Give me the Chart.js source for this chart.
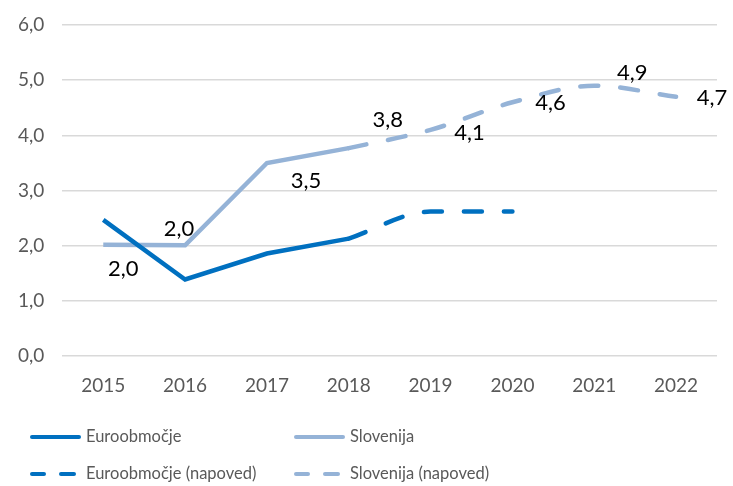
<!DOCTYPE html>
<html>
<head>
<meta charset="utf-8">
<script src="https://cdn.jsdelivr.net/npm/chart.js@4/dist/chart.umd.min.js"></script>
<style>
  body { margin: 0; background: #fff; }
  #myChart { display: block; }
</style>
</head>
<body>
<canvas id="myChart" width="733" height="486"></canvas>
<script>
// data
const years = ["2015", "2016", "2017", "2018", "2019", "2020", "2021", "2022"];
const euroActual = [2.47, 1.39, 1.86, 2.13, null, null, null, null];
const euroForecast = [null, null, null, 2.13, 2.62, 2.62, null, null];
const sloActual = [2.02, 2.01, 3.5, 3.77, null, null, null, null];
const sloForecast = [null, null, null, 3.77, 4.1, 4.6, 4.9, 4.7];
const yMin = 0;
const yMax = 6;
const yStep = 1;

const euroColor = "#0070c0";
const sloColor = "#95b3d7";
const dash = [18, 22];

// where each Slovenia label sits relative to its point (x, y px)
const labelOffsets = [[20, 24], [-6, -16], [39, 18], [39, -28], [39, 3], [38, 1], [38, -13], [36, 1]];

const fmt = (v) => v.toFixed(1).replace(".", ",");

const sloLabels = {
  id: "sloLabels",
  afterDatasetsDraw(chart) {
    const ctx = chart.ctx;
    const xs = chart.scales.x;
    const ys = chart.scales.y;
    ctx.save();
    ctx.font = "22px Lato";
    ctx.fillStyle = "#000";
    ctx.textAlign = "center";
    ctx.textBaseline = "middle";
    for (let i = 0; i < years.length; i++) {
      let v = sloActual[i] != null ? sloActual[i] : sloForecast[i];
      if (v == null) continue;
      let x = xs.getPixelForValue(i) + labelOffsets[i][0];
      let y = ys.getPixelForValue(v) + labelOffsets[i][1];
      ctx.fillText(fmt(v), x, y);
    }
    ctx.restore();
  },
};

const gridLegend = {
  id: "gridLegend",
  afterDraw(chart) {
    const ctx = chart.ctx;
    const items = chart.data.datasets;
    const cols = [30, 294];
    const rows = [437, 474];
    ctx.save();
    ctx.font = "16.5px Lato";
    ctx.fillStyle = "#595959";
    ctx.textBaseline = "middle";
    ctx.lineCap = "round";
    items.forEach((ds, i) => {
      let x = cols[i % 2];
      let y = rows[Math.floor(i / 2)];
      ctx.strokeStyle = ds.borderColor;
      ctx.lineWidth = 4;
      if (ds.borderDash) {
        ctx.beginPath(); ctx.moveTo(x + 2, y); ctx.lineTo(x + 14, y); ctx.stroke();
        ctx.beginPath(); ctx.moveTo(x + 31, y); ctx.lineTo(x + 44, y); ctx.stroke();
      } else {
        ctx.beginPath(); ctx.moveTo(x + 2, y); ctx.lineTo(x + 49, y); ctx.stroke();
      }
      ctx.fillText(ds.label, x + 56, y);
    });
    ctx.restore();
  },
};

const ctx = document.getElementById("myChart").getContext("2d");
const chart = new Chart(ctx, {
  type: "line",
  data: {
    labels: years,
    datasets: [
      { label: "Euroobmočje", data: euroActual, borderColor: euroColor, borderWidth: 4.5, tension: 0 },
      { label: "Slovenija", data: sloActual, borderColor: sloColor, borderWidth: 4.5, tension: 0 },
      { label: "Euroobmočje (napoved)", data: euroForecast, borderColor: euroColor, borderWidth: 4.5, borderDash: dash, borderCapStyle: "round", cubicInterpolationMode: "monotone" },
      { label: "Slovenija (napoved)", data: sloForecast, borderColor: sloColor, borderWidth: 4.5, borderDash: dash, borderCapStyle: "round", cubicInterpolationMode: "monotone" },
    ],
  },
  options: {
    responsive: false,
    animation: false,
    layout: { padding: { top: 25, right: 16, bottom: 71, left: 14 } },
    elements: { point: { radius: 0, hoverRadius: 0 }, line: { fill: false } },
    plugins: { legend: { display: false }, tooltip: { enabled: false } },
    scales: {
      x: {
        offset: true,
        grid: { display: false, drawTicks: false },
        border: { display: false },
        ticks: { color: "#595959", font: { family: "Lato", size: 19 }, padding: 18 },
      },
      y: {
        min: yMin,
        max: yMax,
        grid: { color: "#d9d9d9", lineWidth: 1.5, drawTicks: true, tickLength: 14, tickColor: "rgba(0,0,0,0)" },
        border: { display: false },
        ticks: {
          stepSize: yStep,
          color: "#595959",
          font: { family: "Lato", size: 19 },
          padding: 4,
          callback: (v) => fmt(v),
        },
      },
    },
  },
  plugins: [sloLabels, gridLegend],
});
</script>
</body>
</html>
